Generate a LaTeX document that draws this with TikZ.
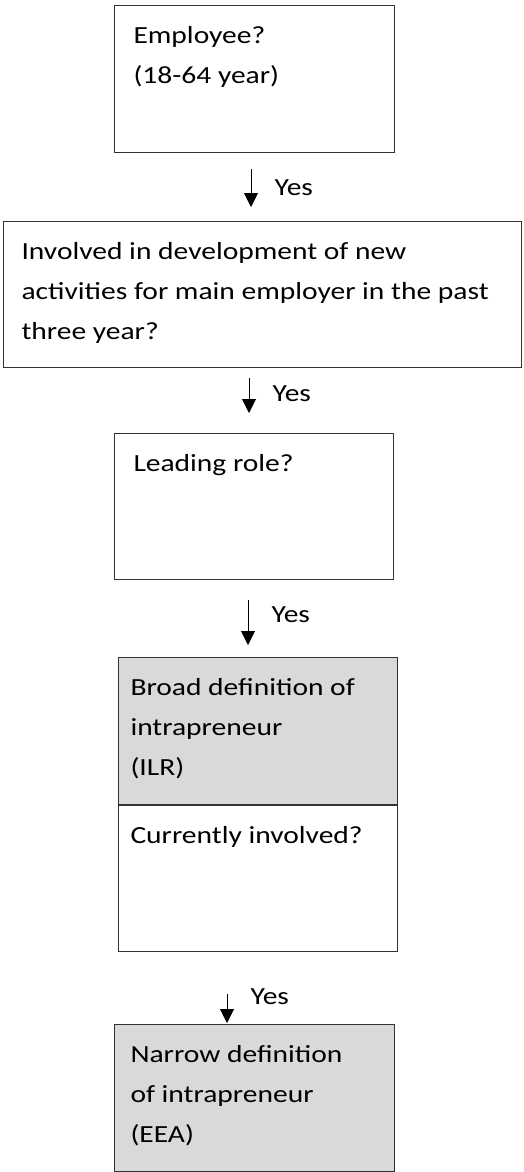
\documentclass[tikz,border=0pt]{standalone}
\usepackage{fontspec}
\setmainfont{Carlito}[FakeStretch=1.2]
\usetikzlibrary{arrows.meta}
\definecolor{boxgray}{HTML}{D9D9D9}
\def\boxtext(#1:#2)#3{\parbox[t][#2pt][t]{#1pt}{\raggedright\rule{0pt}{38pt}#3}}

\begin{document}
\begin{tikzpicture}[x=1pt, y=1pt,
    font=\fontsize{24.6}{40}\selectfont,
    qbox/.style={draw=black!80, line width=1pt, anchor=north west, inner ysep=0pt},
    shaded/.style={qbox, fill=boxgray},
    flow/.style={draw=black, line width=1pt, -{Triangle[length=14pt, width=14pt]}},
    yes/.style={anchor=west, inner sep=0pt, xshift=23pt}]
			%%%%% START %%%%%
			\useasboundingbox (0, 0) rectangle (523, -1172);
			
			\node[qbox, inner xsep=19pt] (emp) at (114, -5) {\boxtext(242:147){Employee?\\(18-64 year)}};
			
			\node[qbox, inner xsep=18pt] (inv) at (3, -221) {\boxtext(482:146){Involved in development of new\\activities for main employer in the past\\three year?}};
			
			\node[qbox, inner xsep=19pt] (lead) at (114, -433) {\boxtext(241:146){Leading role?}};
			
			\node[shaded, inner xsep=12pt] (broad) at (118, -657) {\boxtext(255:147){Broad definition of\\intrapreneur\\(ILR)}};
			\node[qbox, inner xsep=12pt] (curr) at (broad.south west) {\boxtext(255:146){Currently involved?}};
			
			\node[shaded, inner xsep=16pt] (narrow) at (114, -1024) {\boxtext(248:147){Narrow definition\\of intrapreneur\\(EEA)}};
			
			\coordinate (a1) at (251, 0);
			\coordinate (a2) at (249, 0);
			\coordinate (a3) at (248, 0);
			\coordinate (a4) at (227, 0);
			
			\draw[flow, shorten <=16pt, shorten >=14pt] (emp.south -| a1) -- (inv.north -| a1) node[yes, pos=0.51] {Yes};
			\draw[flow, shorten <=10pt, shorten >=20pt] (inv.south -| a2) -- (lead.north -| a2) node[yes, pos=0.39] {Yes};
			\draw[flow, shorten <=20pt, shorten >=12pt] (lead.south -| a3) -- (broad.north -| a3) node[yes, pos=0.455] {Yes};
			\draw[flow, shorten <=42pt, shorten >=1pt] (curr.south -| a4) -- (narrow.north -| a4) node[yes, pos=0.615] {Yes};
			
			%%%%% END %%%%%
\end{tikzpicture}
\end{document}
